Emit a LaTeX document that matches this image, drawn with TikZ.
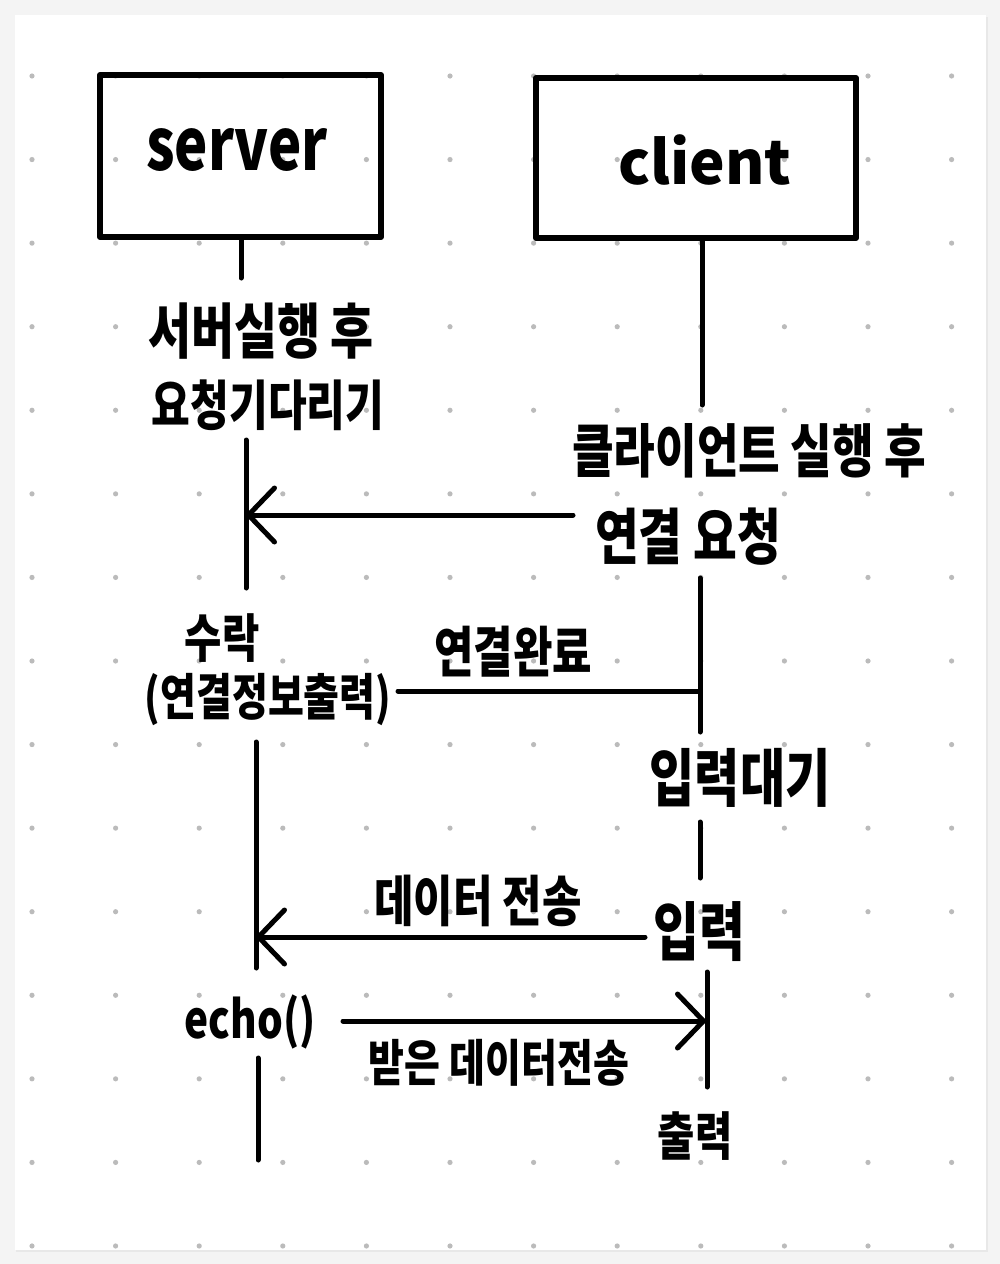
\documentclass[tikz,border=0pt]{standalone}
\usepackage{fontspec}
\usetikzlibrary{arrows.meta}
\newfontfamily\hw{Noto Sans CJK KR}[FakeStretch=0.78]
\newfontfamily\hwl{Noto Sans CJK KR}
\definecolor{dotc}{HTML}{BBBBBB}
\definecolor{bgc}{HTML}{F4F4F4}
\newcommand{\fs}[1]{\fontsize{#1}{#1}\selectfont}
\begin{document}
\begin{tikzpicture}[x=1pt,y=-1pt,
  box/.style={draw, line width=6pt, line join=round, inner sep=0pt},
  lbl/.style={inner sep=0pt, font=\hw\bfseries\fs{52}},
  life/.style={line width=5pt, line cap=round},
  msg/.style={life, -{Straight Barb[length=26pt,width=54pt,round]}}]
\useasboundingbox (0,0) rectangle (1000,1264);
\fill[bgc] (0,0) rectangle (1000,1264);
\fill[gray!18] (16,17) rectangle (988,1252);
\fill[white] (15,15) rectangle (986,1250);
\foreach \i in {0,...,11}{\foreach \j in {0,...,14}{
  \fill[dotc] ({32+83.6*\i},{76+83.57*\j}) circle (2.6pt);}}
% boxes
\node[box, minimum width=281pt, minimum height=162pt] (server) at (240.5,156) {};
\node[font=\hw\bfseries\fs{72}, inner sep=0pt] (servert) at (237,150) {server};
\node[box, minimum width=320pt, minimum height=160pt] (client) at (696,158) {};
\node[font=\hwl\bfseries\fs{60}, inner sep=0pt] (clientt) at (705,160) {client};
% labels
\node[lbl, font=\hw\bfseries\fs{60}] (s1) at (261,331) {서버실행 후};
\node[lbl, font=\hw\bfseries\fs{54}] (s2) at (268,405) {요청기다리기};
\node[lbl, font=\hw\bfseries\fs{58}] (c1) at (749,451) {클라이언트 실행 후};
\node[lbl, font=\hw\bfseries\fs{61}] (c2) at (688,537) {연결 요청};
\node[lbl] (s3) at (222,638) {수락};
\node[lbl, font=\hw\bfseries\fs{50}] (s4) at (268,700) {(연결정보출력)};
\node[lbl, font=\hw\bfseries\fs{55}] (m1) at (513,652) {연결완료};
\node[lbl, font=\hw\bfseries\fs{63}] (c3) at (740,778) {입력대기};
\node[lbl, font=\hw\bfseries\fs{64}] (c4) at (699,932) {입력};
\node[lbl, font=\hw\bfseries\fs{55}] (m2) at (478,901) {데이터 전송};
\node[font=\hw\bfseries\fs{52}, inner sep=0pt] (s5) at (250,1022) {echo()};
\node[lbl, font=\hw\bfseries\fs{50}] (m3) at (499,1063) {받은 데이터전송};
\node[lbl] (c5) at (695,1136) {출력};
% coordinates
\coordinate (sa) at (241,278);
\coordinate (sb1) at (246,440);
\coordinate (sb2) at (246,588);
\coordinate (sr) at (246,515);
\coordinate (cr) at (573,515);
\coordinate (sc1) at (256,742);
\coordinate (sc2) at (256,968);
\coordinate (sd) at (256,937);
\coordinate (cd) at (645,937);
\coordinate (se1) at (258,1058);
\coordinate (se2) at (258,1160);
\coordinate (ca) at (702,405);
\coordinate (cb1) at (700,578);
\coordinate (cb2) at (700,732);
\coordinate (ck) at (700,691);
\coordinate (sk) at (398,691);
\coordinate (cc1) at (700,822);
\coordinate (cc2) at (700,878);
\coordinate (ce1) at (707,972);
\coordinate (ce2) at (707,1087);
\coordinate (ee) at (343,1021);
\coordinate (ce) at (706,1021);
% lifelines
\draw[life] (server.south -| sa) -- (sa);
\draw[life] (sb1) -- (sb2);
\draw[life] (sc1) -- (sc2);
\draw[life] (se1) -- (se2);
\draw[life] (client.south -| ca) -- (ca);
\draw[life] (cb1) -- (cb2);
\draw[life] (cc1) -- (cc2);
\draw[life] (ce1) -- (ce2);
% messages
\draw[msg] (cr) -- (sr);
\draw[life] (sk) -- (ck);
\draw[msg] (cd) -- (sd);
\draw[msg] (ee) -- (ce);
\end{tikzpicture}
\end{document}
